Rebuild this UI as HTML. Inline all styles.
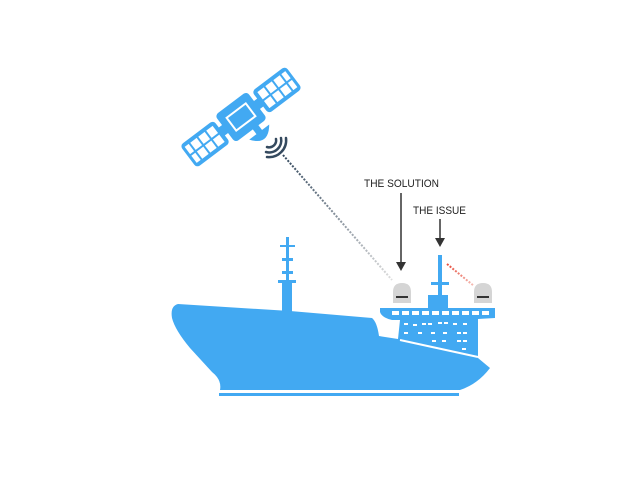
<!DOCTYPE html>
<html><head><meta charset="utf-8"><style>
html,body{margin:0;padding:0;background:#fff;width:640px;height:480px;overflow:hidden}
svg{display:block}
text{font-family:"Liberation Sans",sans-serif;font-size:11px;fill:#222}
</style></head><body>
<svg width="640" height="480" viewBox="0 0 640 480">
<defs>
<linearGradient id="g1" x1="283" y1="155" x2="392" y2="280" gradientUnits="userSpaceOnUse">
<stop offset="0" stop-color="#34495e"/><stop offset="1" stop-color="#ddd"/></linearGradient>
<linearGradient id="g2" x1="447" y1="264" x2="474" y2="286" gradientUnits="userSpaceOnUse">
<stop offset="0" stop-color="#e74c3c"/><stop offset="1" stop-color="#f5c0b8"/></linearGradient>
</defs>
<!-- satellite -->
<g transform="translate(241,117) rotate(-37)" fill="#42a9f2">
<rect x="-20" y="-17" width="40" height="34" rx="4"/>
<rect x="-12" y="-8" width="24" height="16" fill="none" stroke="#fff" stroke-width="2"/>
<rect x="18" y="-5" width="8" height="10"/><rect x="-26" y="-5" width="8" height="10"/>
<rect x="24" y="-14" width="42" height="28" rx="4"/>
<rect x="-66" y="-14" width="42" height="28" rx="4"/>
<g fill="#fff">
<rect x="28" y="-10" width="8" height="9"/><rect x="38" y="-10" width="8" height="9"/><rect x="48" y="-10" width="8" height="9"/><rect x="58" y="-10" width="5" height="9"/>
<rect x="28" y="1" width="8" height="9"/><rect x="38" y="1" width="8" height="9"/><rect x="48" y="1" width="8" height="9"/><rect x="58" y="1" width="5" height="9"/>
<rect x="-63" y="-10" width="5" height="9"/><rect x="-56" y="-10" width="8" height="9"/><rect x="-46" y="-10" width="8" height="9"/><rect x="-36" y="-10" width="8" height="9"/>
<rect x="-63" y="1" width="5" height="9"/><rect x="-56" y="1" width="8" height="9"/><rect x="-46" y="1" width="8" height="9"/><rect x="-36" y="1" width="8" height="9"/>
</g>
<rect x="2" y="16" width="7" height="8"/>
<path d="M-7,23 Q5,40 18,23 Z"/>
</g>
<g fill="none" stroke="#34495e" stroke-width="2.5" stroke-linecap="round">
<path d="M267,147 A7,7 0 0 0 276,139"/>
<path d="M266,152 A12,12 0 0 0 281,138"/>
<path d="M267,157 A17,17 0 0 0 286,138"/>
</g>
<line x1="283" y1="155" x2="392" y2="280" stroke="url(#g1)" stroke-width="2" stroke-dasharray="2,1.5"/>
<line x1="447" y1="264" x2="474" y2="286" stroke="url(#g2)" stroke-width="2" stroke-dasharray="2,1.5"/>
<!-- labels & arrows -->
<text x="364" y="187" textLength="75" lengthAdjust="spacingAndGlyphs">THE SOLUTION</text>
<text x="413" y="214" textLength="53" lengthAdjust="spacingAndGlyphs">THE ISSUE</text>
<line x1="401" y1="193" x2="401" y2="266" stroke="#333" stroke-width="1.5"/>
<path d="M396,262 L401,271 L406,262 Z" fill="#333"/>
<line x1="440" y1="219" x2="440" y2="242" stroke="#333" stroke-width="1.5"/>
<path d="M435,238 L440,247 L445,238 Z" fill="#333"/>
<!-- ship -->
<g fill="#42a9f2">
<path d="M178,304 Q170,306 172,318 Q175,330 190,348 L212,372 Q222,380 220,390 L460,390 Q478,384 490,368 L478,358 L478,320 L400,320 L398,339 L379,336 Q377,322 372,318 L290,311 L178,304 Z"/>
<rect x="219" y="393" width="240" height="3"/>
<rect x="282" y="280" width="10" height="32"/>
<rect x="286" y="237" width="3" height="45"/>
<rect x="280" y="245" width="15" height="2"/>
<rect x="282" y="258" width="11" height="3"/>
<rect x="282" y="271" width="11" height="3"/>
<rect x="278" y="280" width="18" height="3"/>
<path d="M380,308 L495,308 L495,318 L478,319 L478,320 L392,320 Q382,318 380,312 Z"/>
<rect x="428" y="295" width="20" height="14"/>
<rect x="438" y="255" width="4" height="42"/>
<rect x="431" y="282" width="18" height="3"/>
</g>
<path d="M400,340 L478,357" stroke="#fff" stroke-width="2"/>
<g fill="#fff">
<rect x="392" y="311" width="7" height="4"/><rect x="402" y="311" width="7" height="4"/><rect x="412" y="311" width="7" height="4"/><rect x="422" y="311" width="7" height="4"/><rect x="432" y="311" width="7" height="4"/><rect x="442" y="311" width="7" height="4"/><rect x="452" y="311" width="7" height="4"/><rect x="462" y="311" width="7" height="4"/><rect x="472" y="311" width="7" height="4"/><rect x="482" y="311" width="7" height="4"/>
<rect x="404" y="323" width="4" height="2"/><rect x="413" y="324" width="4" height="2"/><rect x="422" y="323" width="4" height="2"/><rect x="428" y="323" width="4" height="2"/><rect x="438" y="322" width="4" height="2"/><rect x="444" y="322" width="4" height="2"/><rect x="453" y="323" width="4" height="2"/><rect x="463" y="323" width="4" height="2"/>
<rect x="404" y="332" width="4" height="2"/><rect x="418" y="332" width="4" height="2"/><rect x="431" y="332" width="4" height="2"/><rect x="443" y="332" width="4" height="2"/><rect x="457" y="332" width="4" height="2"/><rect x="463" y="332" width="4" height="2"/>
<rect x="432" y="340" width="4" height="2"/><rect x="442" y="340" width="4" height="2"/><rect x="457" y="340" width="4" height="2"/><rect x="463" y="340" width="4" height="2"/>
<rect x="462" y="348" width="4" height="2"/>
</g>
<g fill="#d5d5d5">
<path d="M393,303 L393,292 Q393,283 402,283 Q411,283 411,292 L411,303 Z"/>
<path d="M474,303 L474,292 Q474,283 483,283 Q492,283 492,292 L492,303 Z"/>
</g>
<rect x="396" y="296" width="12" height="2" fill="#333"/>
<rect x="477" y="296" width="12" height="2" fill="#333"/>
</svg>
</body></html>
